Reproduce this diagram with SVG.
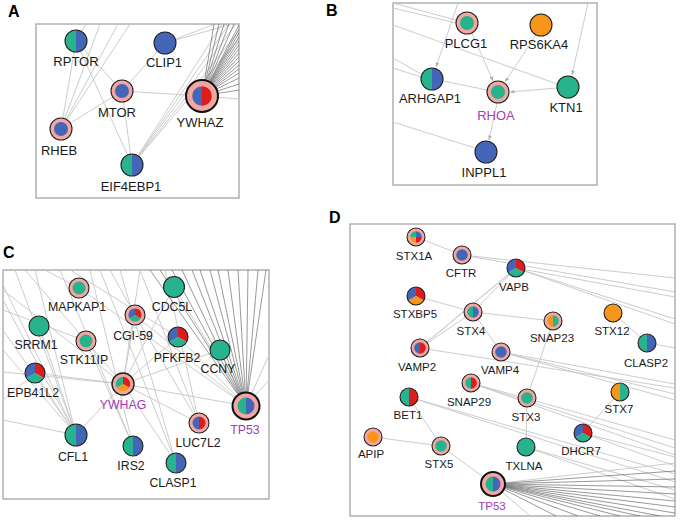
<svg xmlns="http://www.w3.org/2000/svg" xmlns:xlink="http://www.w3.org/1999/xlink" width="680" height="522" viewBox="0 0 680 522">
<style>
.bg{fill:#ffffff}
.frame{fill:none;stroke:#aaaaaa;stroke-width:1.4}
.e{stroke:#c6c6c6;stroke-width:0.9;fill:none}
.k{stroke:#4a4a4a;stroke-width:0.7;opacity:0.8;fill:none}
.bd{fill:none;stroke:#222;stroke-width:1.1}
.bdb{fill:none;stroke:#111;stroke-width:2}
.ring{fill:#f4a6a0;stroke:#222;stroke-width:1.1}
.ringb{fill:#f4a6a0;stroke:#111;stroke-width:2}
.teal{fill:#27b38e}
.blue{fill:#4466b8}
.red{fill:#e01b1b}
.orange{fill:#f7961a}
.t{font-family:"Liberation Sans",Arial,sans-serif;fill:#1a1a1a;text-anchor:middle}
.sa{font-size:13px}
.sc{font-size:12.3px}
.sd{font-size:11.5px}
.pur{fill:#a03cb4}
.let{font-family:"Liberation Sans",Arial,sans-serif;font-weight:bold;font-size:16px;fill:#000}
</style>
<defs>
<clipPath id="cpA"><rect x="36" y="24" width="203" height="174"/></clipPath>
<clipPath id="cpB"><rect x="393" y="3" width="204" height="182"/></clipPath>
<clipPath id="cpC"><rect x="3" y="270" width="266" height="229"/></clipPath>
<clipPath id="cpD"><rect x="350" y="224" width="325" height="292"/></clipPath>
<marker id="ar" viewBox="0 0 10 10" refX="10" refY="5" markerWidth="5" markerHeight="5" orient="auto"><path d="M0,1 L10,5 L0,9 Z" fill="#aaaaaa"/></marker>
<g id="tb"><path class="teal" d="M0,-10 A10,10 0 0,0 0,10 Z"/><path class="blue" d="M0,-10 A10,10 0 0,1 0,10 Z"/></g>
<g id="br"><path class="blue" d="M0,-10 A10,10 0 0,0 0,10 Z"/><path class="red" d="M0,-10 A10,10 0 0,1 0,10 Z"/></g>
<g id="tr"><path class="teal" d="M0,-10 A10,10 0 0,0 0,10 Z"/><path class="red" d="M0,-10 A10,10 0 0,1 0,10 Z"/></g>
<g id="ot"><path class="orange" d="M0,-10 A10,10 0 0,0 0,10 Z"/><path class="teal" d="M0,-10 A10,10 0 0,1 0,10 Z"/></g>
<g id="rtb"><path class="red" d="M0,0 L0,-10 A10,10 0 0,1 8.66,5 Z"/><path class="teal" d="M0,0 L8.66,5 A10,10 0 0,1 -8.66,5 Z"/><path class="blue" d="M0,0 L-8.66,5 A10,10 0 0,1 0,-10 Z"/></g>
<g id="rob"><path class="red" d="M0,0 L0,-10 A10,10 0 0,1 8.66,5 Z"/><path class="orange" d="M0,0 L8.66,5 A10,10 0 0,1 -8.66,5 Z"/><path class="blue" d="M0,0 L-8.66,5 A10,10 0 0,1 0,-10 Z"/></g>
<g id="rot"><path class="red" d="M0,0 L0,-10 A10,10 0 0,1 8.66,5 Z"/><path class="orange" d="M0,0 L8.66,5 A10,10 0 0,1 -8.66,5 Z"/><path class="teal" d="M0,0 L-8.66,5 A10,10 0 0,1 0,-10 Z"/></g>
<g id="q4"><path class="blue" d="M0,0 L0,-10 A10,10 0 0,1 10,0 Z"/><path class="red" d="M0,0 L10,0 A10,10 0 0,1 0,10 Z"/><path class="orange" d="M0,0 L0,10 A10,10 0 0,1 -10,0 Z"/><path class="teal" d="M0,0 L-10,0 A10,10 0 0,1 0,-10 Z"/></g>
</defs>
<rect class="bg" x="0" y="0" width="680" height="522"/>

<g id="panel-labels">
<text class="let" x="8" y="17">A</text>
<text class="let" x="326" y="16">B</text>
<text class="let" x="3" y="258">C</text>
<text class="let" x="329" y="223">D</text>
</g>

<g id="frames">
<rect class="frame" x="36" y="24" width="203" height="174"/>
<rect class="frame" x="393" y="3" width="204" height="182"/>
<rect class="frame" x="3" y="270" width="266" height="229"/>
<rect class="frame" x="350" y="224" width="325" height="292"/>
</g>

<g id="connectors">
<g clip-path="url(#cpA)">
<g class="e">
<line x1="76" y1="41" x2="122" y2="91"/>
<line x1="76" y1="41" x2="61" y2="129"/>
<line x1="76" y1="41" x2="132" y2="165"/>
<line x1="76" y1="41" x2="86" y2="24"/>
<line x1="165" y1="43" x2="122" y2="91"/>
<line x1="165" y1="43" x2="215" y2="24"/>
<line x1="165" y1="43" x2="232" y2="24"/>
<line x1="122" y1="91" x2="202" y2="96"/>
<line x1="122" y1="91" x2="61" y2="129"/>
<line x1="122" y1="91" x2="132" y2="165"/>
<line x1="61" y1="129" x2="118" y2="24"/>
<line x1="61" y1="129" x2="130" y2="24"/>
<line x1="61" y1="129" x2="100" y2="24"/>
<line x1="132" y1="165" x2="222" y2="24"/>
<line x1="132" y1="165" x2="229" y2="24"/>
<line x1="132" y1="165" x2="236" y2="24"/>
<line x1="132" y1="165" x2="239" y2="31"/>
<line x1="132" y1="165" x2="239" y2="39"/>
<line x1="202" y1="96" x2="239" y2="99"/>
</g>
<g class="k">
<line x1="202" y1="96" x2="214" y2="24"/>
<line x1="202" y1="96" x2="219" y2="24"/>
<line x1="202" y1="96" x2="224" y2="24"/>
<line x1="202" y1="96" x2="229" y2="24"/>
<line x1="202" y1="96" x2="234" y2="24"/>
<line x1="202" y1="96" x2="239" y2="25"/>
<line x1="202" y1="96" x2="239" y2="29"/>
<line x1="202" y1="96" x2="239" y2="33"/>
<line x1="202" y1="96" x2="239" y2="37"/>
<line x1="202" y1="96" x2="239" y2="41"/>
<line x1="202" y1="96" x2="239" y2="45"/>
<line x1="202" y1="96" x2="239" y2="49"/>
<line x1="202" y1="96" x2="239" y2="53"/>
<line x1="202" y1="96" x2="239" y2="57"/>
<line x1="202" y1="96" x2="239" y2="61"/>
<line x1="202" y1="96" x2="239" y2="65"/>
<line x1="202" y1="96" x2="239" y2="69"/>
<line x1="202" y1="96" x2="239" y2="73"/>
<line x1="202" y1="96" x2="239" y2="78"/>
<line x1="202" y1="96" x2="239" y2="84"/>
<line x1="202" y1="96" x2="239" y2="90"/>
</g>
</g>

<g clip-path="url(#cpB)" class="e">
<line x1="393" y1="3" x2="456" y2="20"/>
<line x1="393" y1="8" x2="456" y2="23"/>
<line x1="393" y1="25" x2="557" y2="84"/>
<line x1="458" y1="3" x2="436" y2="67" marker-end="url(#ar)"/>
<line x1="393" y1="58" x2="421" y2="74"/>
<line x1="393" y1="68" x2="421" y2="77"/>
<line x1="443" y1="81" x2="487" y2="90"/>
<line x1="472" y1="33" x2="493" y2="81" marker-end="url(#ar)"/>
<line x1="536" y1="35" x2="505" y2="82" marker-end="url(#ar)"/>
<line x1="557" y1="88" x2="510" y2="92" marker-end="url(#ar)"/>
<line x1="497" y1="103" x2="489" y2="140" marker-end="url(#ar)"/>
<line x1="393" y1="122" x2="475" y2="148"/>
<line x1="588" y1="3" x2="572" y2="75" marker-end="url(#ar)"/>
</g>

<g clip-path="url(#cpC)">
<g class="e">
<line x1="123" y1="384" x2="135" y2="315"/>
<line x1="123" y1="384" x2="140" y2="270"/>
<line x1="123" y1="384" x2="178" y2="337"/>
<line x1="123" y1="384" x2="220" y2="350"/>
<line x1="123" y1="384" x2="35" y2="373"/>
<line x1="123" y1="384" x2="246" y2="406"/>
<line x1="123" y1="384" x2="199" y2="423"/>
<line x1="123" y1="384" x2="76" y2="435"/>
<line x1="123" y1="384" x2="86" y2="341"/>
<line x1="123" y1="384" x2="174" y2="287"/>
<line x1="123" y1="384" x2="176" y2="463"/>
<line x1="3" y1="285" x2="76" y2="435"/>
<line x1="3" y1="300" x2="76" y2="435"/>
<line x1="3" y1="330" x2="76" y2="435"/>
<line x1="3" y1="350" x2="76" y2="435"/>
<line x1="15" y1="270" x2="76" y2="435"/>
<line x1="35" y1="270" x2="76" y2="435"/>
<line x1="35" y1="373" x2="76" y2="435"/>
<line x1="39" y1="326" x2="76" y2="435"/>
<line x1="60" y1="270" x2="133" y2="446"/>
<line x1="90" y1="270" x2="133" y2="446"/>
<line x1="86" y1="341" x2="133" y2="446"/>
<line x1="100" y1="270" x2="176" y2="463"/>
<line x1="120" y1="270" x2="176" y2="463"/>
<line x1="140" y1="270" x2="199" y2="423"/>
<line x1="135" y1="315" x2="199" y2="423"/>
<line x1="165" y1="270" x2="199" y2="423"/>
<line x1="3" y1="290" x2="123" y2="384"/>
<line x1="3" y1="310" x2="86" y2="341"/>
<line x1="25" y1="270" x2="86" y2="341"/>
<line x1="45" y1="270" x2="79" y2="288"/>
<line x1="3" y1="400" x2="35" y2="373"/>
<line x1="3" y1="420" x2="76" y2="435"/>
<line x1="79" y1="288" x2="246" y2="406"/>
<line x1="135" y1="315" x2="246" y2="406"/>
<line x1="174" y1="287" x2="246" y2="406"/>
<line x1="178" y1="337" x2="246" y2="406"/>
<line x1="220" y1="350" x2="246" y2="406"/>
<line x1="269" y1="355" x2="246" y2="406"/>
<line x1="269" y1="380" x2="246" y2="406"/>
<line x1="3" y1="372" x2="123" y2="384"/>
<line x1="70" y1="270" x2="178" y2="337"/>
<line x1="110" y1="270" x2="135" y2="315"/>
</g>
<g class="k">
<line x1="150" y1="270" x2="246" y2="406"/>
<line x1="160" y1="270" x2="246" y2="406"/>
<line x1="172" y1="270" x2="246" y2="406"/>
<line x1="182" y1="270" x2="246" y2="406"/>
<line x1="192" y1="270" x2="246" y2="406"/>
<line x1="200" y1="270" x2="246" y2="406"/>
<line x1="210" y1="270" x2="246" y2="406"/>
<line x1="218" y1="270" x2="246" y2="406"/>
<line x1="228" y1="270" x2="246" y2="406"/>
<line x1="238" y1="270" x2="246" y2="406"/>
<line x1="248" y1="270" x2="246" y2="406"/>
<line x1="258" y1="270" x2="246" y2="406"/>
<line x1="266" y1="270" x2="246" y2="406"/>
</g>
</g>

<g clip-path="url(#cpD)">
<g class="e">
<line x1="416" y1="237" x2="462" y2="255"/>
<line x1="462" y1="255" x2="675" y2="278"/>
<line x1="462" y1="255" x2="675" y2="292"/>
<line x1="516" y1="268" x2="675" y2="297"/>
<line x1="516" y1="268" x2="675" y2="319"/>
<line x1="516" y1="268" x2="675" y2="324"/>
<line x1="516" y1="268" x2="473" y2="312"/>
<line x1="516" y1="268" x2="420" y2="348"/>
<line x1="514" y1="270" x2="422" y2="346"/>
<line x1="416" y1="296" x2="473" y2="312"/>
<line x1="473" y1="312" x2="553" y2="321"/>
<line x1="473" y1="312" x2="501" y2="352"/>
<line x1="473" y1="312" x2="420" y2="348"/>
<line x1="420" y1="348" x2="675" y2="388"/>
<line x1="501" y1="352" x2="675" y2="384"/>
<line x1="501" y1="352" x2="675" y2="394"/>
<line x1="501" y1="352" x2="675" y2="400"/>
<line x1="553" y1="321" x2="527" y2="398"/>
<line x1="613" y1="313" x2="647" y2="343"/>
<line x1="647" y1="343" x2="675" y2="348"/>
<line x1="471" y1="383" x2="675" y2="440"/>
<line x1="471" y1="383" x2="675" y2="448"/>
<line x1="471" y1="383" x2="675" y2="455"/>
<line x1="409" y1="397" x2="675" y2="474"/>
<line x1="409" y1="397" x2="675" y2="482"/>
<line x1="409" y1="397" x2="441" y2="446"/>
<line x1="583" y1="433" x2="675" y2="457"/>
<line x1="583" y1="433" x2="675" y2="466"/>
<line x1="620" y1="392" x2="583" y2="433"/>
<line x1="527" y1="398" x2="526" y2="447"/>
<line x1="526" y1="447" x2="675" y2="490"/>
<line x1="526" y1="447" x2="675" y2="499"/>
<line x1="373" y1="437" x2="441" y2="446"/>
<line x1="441" y1="446" x2="493" y2="484"/>
<line x1="493" y1="484" x2="675" y2="463"/>
<line x1="493" y1="484" x2="530" y2="516"/>
</g>
<g class="k">
<line x1="493" y1="484" x2="675" y2="471"/>
<line x1="493" y1="484" x2="675" y2="479"/>
<line x1="493" y1="484" x2="675" y2="487"/>
<line x1="493" y1="484" x2="675" y2="494"/>
<line x1="493" y1="484" x2="675" y2="501"/>
<line x1="493" y1="484" x2="675" y2="507"/>
<line x1="493" y1="484" x2="675" y2="513"/>
<line x1="493" y1="484" x2="660" y2="516"/>
<line x1="493" y1="484" x2="640" y2="516"/>
<line x1="493" y1="484" x2="620" y2="516"/>
<line x1="493" y1="484" x2="600" y2="516"/>
<line x1="493" y1="484" x2="578" y2="516"/>
<line x1="493" y1="484" x2="556" y2="516"/>
</g>
</g>
</g>

<!-- Panel A nodes -->
<g id="RPTOR"><use href="#tb" transform="translate(76,41) scale(1.1)"/><circle class="bd" cx="76" cy="41" r="11"/><text class="t sa" x="76" y="66">RPTOR</text></g>
<g id="CLIP1"><circle class="blue" cx="165" cy="43" r="11"/><circle class="bd" cx="165" cy="43" r="11"/><text class="t sa" x="164" y="67">CLIP1</text></g>
<g id="MTOR"><circle class="ring" cx="122" cy="91" r="11"/><circle class="blue" cx="122" cy="91" r="7"/><text class="t sa" x="117" y="117">MTOR</text></g>
<g id="YWHAZ"><circle class="ringb" cx="202" cy="96" r="16"/><use href="#br" transform="translate(202,96) scale(0.98)"/><text class="t sa" x="200" y="127">YWHAZ</text></g>
<g id="RHEB"><circle class="ring" cx="61" cy="129" r="11"/><circle class="blue" cx="61" cy="129" r="7"/><text class="t sa" x="59" y="155">RHEB</text></g>
<g id="EIF4EBP1"><use href="#tb" transform="translate(132,165) scale(1.1)"/><circle class="bd" cx="132" cy="165" r="11"/><text class="t sa" x="131" y="191">EIF4EBP1</text></g>

<!-- Panel B nodes -->
<g id="PLCG1"><circle class="ring" cx="467" cy="23" r="11"/><circle class="teal" cx="467" cy="23" r="7"/><text class="t sa" x="466" y="48">PLCG1</text></g>
<g id="RPS6KA4"><circle class="orange" cx="541" cy="25" r="11"/><circle class="bd" cx="541" cy="25" r="11"/><text class="t sa" x="539" y="49">RPS6KA4</text></g>
<g id="ARHGAP1"><use href="#tb" transform="translate(432,79) scale(1.1)"/><circle class="bd" cx="432" cy="79" r="11"/><text class="t sa" x="430" y="103">ARHGAP1</text></g>
<g id="RHOA"><circle class="ring" cx="498" cy="92" r="11"/><circle class="teal" cx="498" cy="92" r="7"/><text class="t sa pur" x="496" y="120">RHOA</text></g>
<g id="KTN1"><circle class="teal" cx="568" cy="87" r="11"/><circle class="bd" cx="568" cy="87" r="11"/><text class="t sa" x="566" y="112">KTN1</text></g>
<g id="INPPL1"><circle class="blue" cx="486" cy="152" r="11"/><circle class="bd" cx="486" cy="152" r="11"/><text class="t sa" x="484" y="177">INPPL1</text></g>

<!-- Panel C nodes -->
<g id="MAPKAP1"><circle class="ring" cx="79" cy="288" r="10"/><circle class="teal" cx="79" cy="288" r="6.5"/><text class="t sc" x="77" y="311">MAPKAP1</text></g>
<g id="CDC5L"><circle class="teal" cx="174" cy="287" r="10.5"/><circle class="bd" cx="174" cy="287" r="10.5"/><text class="t sc" x="172" y="311">CDC5L</text></g>
<g id="SRRM1"><circle class="teal" cx="39" cy="326" r="10"/><circle class="bd" cx="39" cy="326" r="10"/><text class="t sc" x="36" y="349">SRRM1</text></g>
<g id="CGI-59"><circle class="ring" cx="135" cy="315" r="10"/><use href="#rtb" transform="translate(135,315) scale(0.65)"/><text class="t sc" x="133" y="340">CGI-59</text></g>
<g id="STK11IP"><circle class="ring" cx="86" cy="341" r="10"/><circle class="teal" cx="86" cy="341" r="6.5"/><text class="t sc" x="84" y="364">STK11IP</text></g>
<g id="PFKFB2"><use href="#rtb" transform="translate(178,337)"/><circle class="bd" cx="178" cy="337" r="10"/><text class="t sc" x="177" y="362">PFKFB2</text></g>
<g id="CCNY"><circle class="teal" cx="220" cy="350" r="10"/><circle class="bd" cx="220" cy="350" r="10"/><text class="t sc" x="218" y="373">CCNY</text></g>
<g id="EPB41L2"><use href="#rtb" transform="translate(35,373)"/><circle class="bd" cx="35" cy="373" r="10"/><text class="t sc" x="33" y="397">EPB41L2</text></g>
<g id="YWHAG"><circle class="ring" cx="123" cy="384" r="11" style="stroke-width:1.4"/><use href="#rot" transform="translate(123,384) scale(0.72)"/><text class="t sc pur" x="123" y="409">YWHAG</text></g>
<g id="TP53-C"><circle class="ringb" cx="246" cy="406" r="13.5"/><use href="#tb" transform="translate(246,406) scale(0.85)"/><text class="t sc pur" x="245" y="434">TP53</text></g>
<g id="LUC7L2"><circle class="ring" cx="199" cy="423" r="10"/><use href="#br" transform="translate(199,423) scale(0.65)"/><text class="t sc" x="198" y="447">LUC7L2</text></g>
<g id="CFL1"><use href="#tb" transform="translate(76,435) scale(1.1)"/><circle class="bd" cx="76" cy="435" r="11"/><text class="t sc" x="73" y="461">CFL1</text></g>
<g id="IRS2"><use href="#tb" transform="translate(133,446)"/><circle class="bd" cx="133" cy="446" r="10"/><text class="t sc" x="131" y="470">IRS2</text></g>
<g id="CLASP1"><use href="#tb" transform="translate(176,463)"/><circle class="bd" cx="176" cy="463" r="10"/><text class="t sc" x="173" y="487">CLASP1</text></g>

<!-- Panel D nodes -->
<g id="STX1A"><circle class="ring" cx="416" cy="237" r="9"/><use href="#q4" transform="translate(416,237) scale(0.58)"/><text class="t sd" x="414" y="260">STX1A</text></g>
<g id="CFTR"><circle class="ring" cx="462" cy="255" r="9"/><circle class="blue" cx="462" cy="255" r="5.8"/><text class="t sd" x="461" y="277">CFTR</text></g>
<g id="VAPB"><use href="#rtb" transform="translate(516,268) scale(0.9)"/><circle class="bd" cx="516" cy="268" r="9"/><text class="t sd" x="514" y="291">VAPB</text></g>
<g id="STXBP5"><use href="#rob" transform="translate(416,296) scale(0.9)"/><circle class="bd" cx="416" cy="296" r="9"/><text class="t sd" x="415" y="318">STXBP5</text></g>
<g id="STX4"><circle class="ring" cx="473" cy="312" r="9"/><use href="#tb" transform="translate(473,312) scale(0.58)"/><text class="t sd" x="471" y="335">STX4</text></g>
<g id="SNAP23"><circle class="ring" cx="553" cy="321" r="9"/><use href="#ot" transform="translate(553,321) scale(0.58)"/><text class="t sd" x="552" y="342">SNAP23</text></g>
<g id="STX12"><circle class="orange" cx="613" cy="313" r="9"/><circle class="bd" cx="613" cy="313" r="9"/><text class="t sd" x="612" y="335">STX12</text></g>
<g id="CLASP2"><use href="#tb" transform="translate(647,343) scale(0.9)"/><circle class="bd" cx="647" cy="343" r="9"/><text class="t sd" x="646" y="367">CLASP2</text></g>
<g id="VAMP2"><circle class="ring" cx="420" cy="348" r="9"/><use href="#br" transform="translate(420,348) scale(0.58)"/><text class="t sd" x="417" y="371">VAMP2</text></g>
<g id="VAMP4"><circle class="ring" cx="501" cy="352" r="9"/><circle class="blue" cx="501" cy="352" r="5.8"/><text class="t sd" x="500" y="374">VAMP4</text></g>
<g id="SNAP29"><circle class="ring" cx="471" cy="383" r="9"/><use href="#tr" transform="translate(471,383) scale(0.58)"/><text class="t sd" x="469" y="406">SNAP29</text></g>
<g id="BET1"><use href="#tr" transform="translate(409,397) scale(0.9)"/><circle class="bd" cx="409" cy="397" r="9"/><text class="t sd" x="408" y="419">BET1</text></g>
<g id="STX3"><circle class="ring" cx="527" cy="398" r="9"/><circle class="teal" cx="527" cy="398" r="5.8"/><text class="t sd" x="526" y="421">STX3</text></g>
<g id="STX7"><use href="#ot" transform="translate(620,392) scale(0.9)"/><circle class="bd" cx="620" cy="392" r="9"/><text class="t sd" x="619" y="413">STX7</text></g>
<g id="DHCR7"><use href="#rtb" transform="translate(583,433) scale(0.9)"/><circle class="bd" cx="583" cy="433" r="9"/><text class="t sd" x="581" y="455">DHCR7</text></g>
<g id="APIP"><circle class="ring" cx="373" cy="437" r="9"/><circle class="orange" cx="373" cy="437" r="5.8"/><text class="t sd" x="371" y="458">APIP</text></g>
<g id="STX5"><circle class="ring" cx="441" cy="446" r="9"/><circle class="teal" cx="441" cy="446" r="5.8"/><text class="t sd" x="439" y="468">STX5</text></g>
<g id="TXLNA"><circle class="teal" cx="526" cy="447" r="9"/><circle class="bd" cx="526" cy="447" r="9"/><text class="t sd" x="524" y="470">TXLNA</text></g>
<g id="TP53-D"><circle class="ringb" cx="493" cy="484" r="12"/><use href="#tb" transform="translate(493,484) scale(0.75)"/><text class="t sd pur" x="492" y="510">TP53</text></g>
</svg>
